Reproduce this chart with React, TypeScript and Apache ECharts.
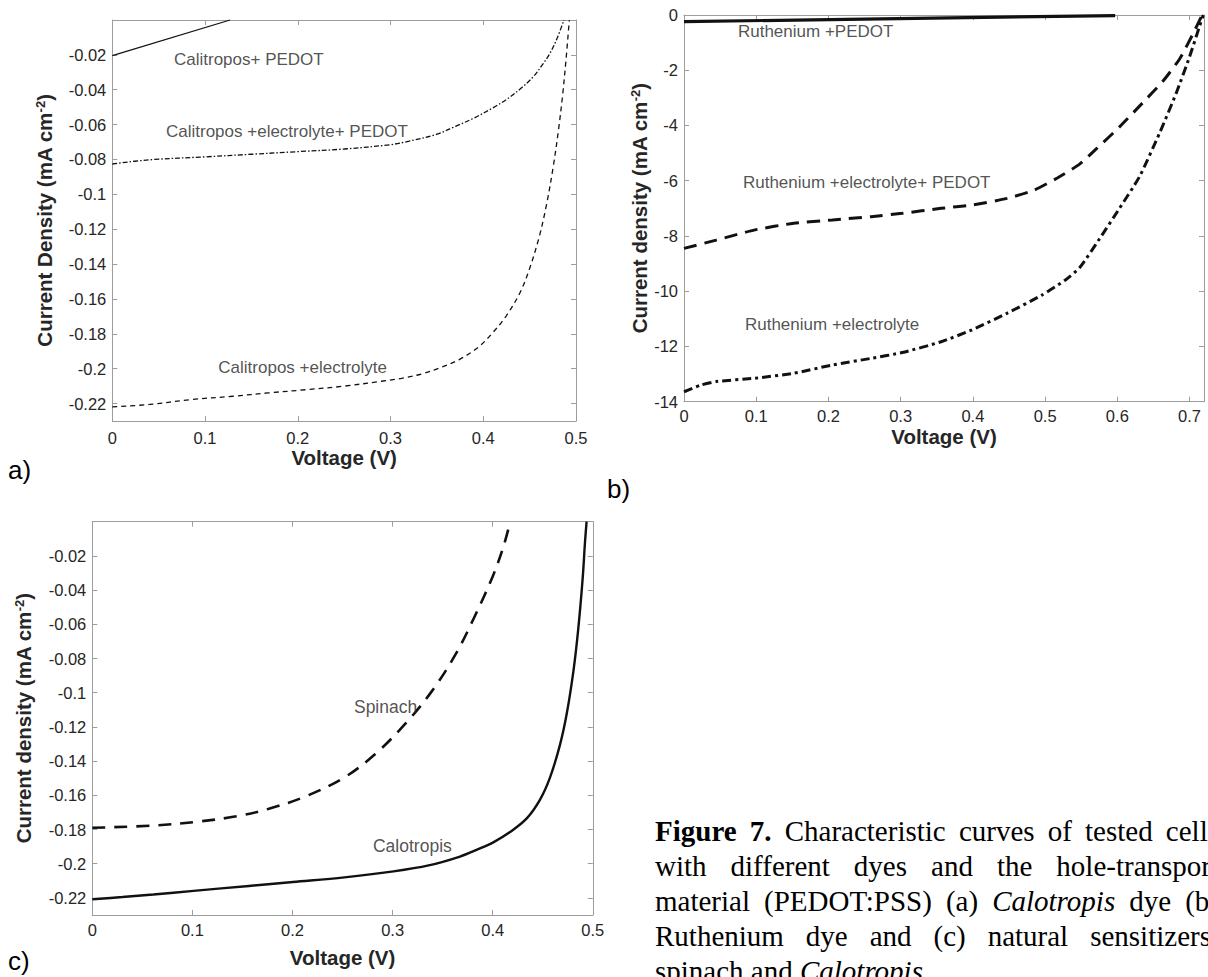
import React, { useEffect, useRef } from "react";
import * as echarts from "echarts";

// ---------------- data ----------------
// Panel a (Calotropis dye)
const aPedotV = [0, 0.127];
const aPedotJ = [-0.0205, 0];
const aElecPedotV = [0, 0.04, 0.1, 0.15, 0.2, 0.25, 0.3, 0.32, 0.35, 0.37, 0.389, 0.41, 0.4253, 0.44, 0.454, 0.464, 0.472, 0.48, 0.487];
const aElecPedotJ = [-0.0826, -0.0802, -0.0785, -0.077, -0.0755, -0.074, -0.0715, -0.0695, -0.0655, -0.061, -0.0565, -0.0505, -0.0455, -0.0395, -0.0325, -0.0255, -0.019, -0.01, 0];
const aElecV = [0, 0.04, 0.085, 0.13, 0.168, 0.21, 0.25, 0.29, 0.312, 0.335, 0.3534, 0.375, 0.395, 0.41, 0.425, 0.44, 0.45, 0.46, 0.468, 0.4755, 0.481, 0.4857, 0.4892, 0.4928];
const aElecJ = [-0.2219, -0.2205, -0.2177, -0.2158, -0.2139, -0.212, -0.21, -0.2072, -0.2055, -0.2028, -0.1995, -0.1945, -0.1875, -0.1795, -0.1695, -0.156, -0.1425, -0.125, -0.1065, -0.084, -0.0635, -0.0425, -0.023, 0];
const aLabels = ["Calitropos+ PEDOT", "Calitropos +electrolyte+ PEDOT", "Calitropos +electrolyte"];
const aLabelV = [0.0665, 0.0579, 0.1143];
const aLabelJ = [-0.0229, -0.0641, -0.1996];

// Panel b (Ruthenium dye)
const bPedotV = [0, 0.597];
const bPedotJ = [-0.24, -0.02];
const bElecPedotV = [0, 0.0446, 0.0982, 0.152, 0.2056, 0.2593, 0.3022, 0.3559, 0.3988, 0.4471, 0.4847, 0.5169, 0.5477, 0.5708, 0.603, 0.6307, 0.663, 0.686, 0.7044, 0.716];
const bElecPedotJ = [-8.45, -8.15, -7.78, -7.54, -7.42, -7.3, -7.18, -7.0, -6.88, -6.64, -6.34, -5.9, -5.4, -4.85, -4.05, -3.3, -2.4, -1.6, -0.7, -0.08];
const bElecV = [0, 0.023, 0.0446, 0.0982, 0.152, 0.2056, 0.2593, 0.3022, 0.3559, 0.3988, 0.4471, 0.4955, 0.5277, 0.5477, 0.5754, 0.603, 0.6307, 0.6584, 0.6815, 0.7, 0.7137, 0.719];
const bElecJ = [-13.64, -13.4, -13.27, -13.15, -12.97, -12.67, -12.43, -12.22, -11.83, -11.4, -10.8, -10.14, -9.6, -9.15, -8.1, -7.0, -5.85, -4.28, -2.83, -1.51, -0.42, 0];
const bLabels = ["Ruthenium +PEDOT", "Ruthenium +electrolyte+ PEDOT", "Ruthenium +electrolyte"];
const bLabelV = [0.0747, 0.0816, 0.0844];
const bLabelJ = [-0.615, -6.08, -11.22];

// Panel c (natural sensitizers)
const cSpinachV = [0, 0.061, 0.107, 0.145, 0.1756, 0.2137, 0.2519, 0.2824, 0.313, 0.34, 0.363, 0.3815, 0.4, 0.4105, 0.4175];
const cSpinachJ = [-0.179, -0.1777, -0.1753, -0.1722, -0.168, -0.1605, -0.1495, -0.136, -0.118, -0.0985, -0.0775, -0.056, -0.032, -0.015, 0];
const cCaloV = [0, 0.03, 0.061, 0.1011, 0.1565, 0.2004, 0.2519, 0.3008, 0.3359, 0.3673, 0.3855, 0.4006, 0.4173, 0.434, 0.4473, 0.4573, 0.4672, 0.4739, 0.4806, 0.4855, 0.4899, 0.4922, 0.4938];
const cCaloJ = [-0.2208, -0.2195, -0.218, -0.2159, -0.213, -0.2107, -0.208, -0.2045, -0.201, -0.1958, -0.1915, -0.1875, -0.1815, -0.1735, -0.1625, -0.1495, -0.1305, -0.1125, -0.0875, -0.0625, -0.033, -0.012, 0];
const cLabels = ["Spinach", "Calotropis"];
const cLabelV = [0.2614, 0.2804];
const cLabelJ = [-0.1083, -0.1899];

// tick values
const acTicksX = [0, 0.1, 0.2, 0.3, 0.4, 0.5];
const acTicksY = [-0.22, -0.2, -0.18, -0.16, -0.14, -0.12, -0.1, -0.08, -0.06, -0.04, -0.02];
const bTicksX = [0, 0.1, 0.2, 0.3, 0.4, 0.5, 0.6, 0.7];
const bTicksY = [-14, -12, -10, -8, -6, -4, -2, 0];

// caption tokens: each token is a list of [text, style]
const captionLines: [string, string][][][] = [
  [[["Figure", "b"]], [["7.", "b"]], [["Characteristic", "n"]], [["curves", "n"]], [["of", "n"]], [["tested", "n"]], [["cells", "n"]]],
  [[["with", "n"]], [["different", "n"]], [["dyes", "n"]], [["and", "n"]], [["the", "n"]], [["hole-transport", "n"]]],
  [[["material", "n"]], [["(PEDOT:PSS)", "n"]], [["(a)", "n"]], [["Calotropis", "i"]], [["dye", "n"]], [["(b)", "n"]]],
  [[["Ruthenium", "n"]], [["dye", "n"]], [["and", "n"]], [["(c)", "n"]], [["natural", "n"]], [["sensitizers:", "n"]]],
  [[["spinach", "n"]], [["and", "n"]], [["Calotropis", "i"], [".", "n"]]],
];

// ---------------- styling ----------------
const AXIS_GREY = "#9d9d9d";
const TEXT = "#262626";
const SANS = "'Liberation Sans', Arial, Helvetica, sans-serif";
const SERIF = "'Liberation Serif', 'Times New Roman', serif";

const fmt = (v: number) => String(parseFloat(Number(v).toFixed(2)));
const pairs = (x: number[], y: number[]) => x.map((v, i) => [v, y[i]]);

type PanelCfg = {
  grid: any;
  xMin: number; xMax: number; xTicks: number[];
  yMin: number; yMax: number; yTicks: number[];
  yName: string; yGap: number; xGap: number; xLabelMargin: number; tickFont: number;
};

const panels: PanelCfg[] = [
  { grid: { left: 112.3, top: 20, width: 463.7, height: 401 }, xMin: 0, xMax: 0.5, xTicks: acTicksX, yMin: -0.23, yMax: 0, yTicks: acTicksY, yName: "Current Density", yGap: 57, xGap: 23.5, xLabelMargin: 8, tickFont: 16.5 },
  { grid: { left: 684, top: 15, width: 520, height: 386.7 }, xMin: 0, xMax: 0.72, xTicks: bTicksX, yMin: -14, yMax: 0, yTicks: bTicksY, yName: "Current density", yGap: 34, xGap: 22.5, xLabelMargin: 6, tickFont: 16.5 },
  { grid: { left: 92.3, top: 521.7, width: 500.5, height: 393.3 }, xMin: 0, xMax: 0.5, xTicks: acTicksX, yMin: -0.23, yMax: 0, yTicks: acTicksY, yName: "Current density", yGap: 58, xGap: 32, xLabelMargin: 6, tickFont: 16.5 },
];

function buildAxes() {
  const xAxis: any[] = [];
  const yAxis: any[] = [];
  panels.forEach((p, gi) => {
    const lineStyle = { color: AXIS_GREY, width: 1 };
    const labelBase = { color: TEXT, fontSize: p.tickFont, fontFamily: SANS, formatter: fmt };
    xAxis.push({
      type: "value", gridIndex: gi, min: p.xMin, max: p.xMax, position: "bottom",
      axisLine: { show: true, onZero: false, lineStyle },
      axisTick: { show: true, inside: true, length: 5, customValues: p.xTicks, lineStyle },
      axisLabel: { ...labelBase, margin: p.xLabelMargin, customValues: p.xTicks },
      splitLine: { show: false },
      name: "Voltage (V)", nameLocation: "middle", nameGap: p.xGap,
      nameTextStyle: { fontWeight: "bold", fontSize: 20.5, color: TEXT, fontFamily: SANS },
    });
    xAxis.push({
      type: "value", gridIndex: gi, min: p.xMin, max: p.xMax, position: "top",
      axisLine: { show: true, onZero: false, lineStyle },
      axisTick: { show: true, inside: true, length: 5, customValues: p.xTicks, lineStyle },
      axisLabel: { show: false },
      splitLine: { show: false },
    });
    yAxis.push({
      type: "value", gridIndex: gi, min: p.yMin, max: p.yMax, position: "left",
      axisLine: { show: true, onZero: false, lineStyle },
      axisTick: { show: true, inside: true, length: 5, customValues: p.yTicks, lineStyle },
      axisLabel: { ...labelBase, margin: 6, customValues: p.yTicks },
      splitLine: { show: false },
      name: `{t|${p.yName} (mA cm}{s|-2}{t|)}`, nameLocation: "middle", nameGap: p.yGap, nameRotate: 90,
      nameTextStyle: {
        rich: {
          t: { fontWeight: "bold", fontSize: 20.5, color: TEXT, fontFamily: SANS },
          s: { fontWeight: "bold", fontSize: 13, color: TEXT, fontFamily: SANS, verticalAlign: "top" },
        },
      },
    });
    yAxis.push({
      type: "value", gridIndex: gi, min: p.yMin, max: p.yMax, position: "right",
      axisLine: { show: true, onZero: false, lineStyle },
      axisTick: { show: true, inside: true, length: 5, customValues: p.yTicks, lineStyle },
      axisLabel: { show: false },
      splitLine: { show: false },
    });
  });
  return { xAxis, yAxis };
}

function lineSeries(gi: number, name: string, x: number[], y: number[], width: number, type: any, smooth: number) {
  return {
    type: "line", name, xAxisIndex: gi * 2, yAxisIndex: gi * 2, data: pairs(x, y),
    showSymbol: false, symbol: "none", smooth, clip: true,
    lineStyle: { color: "#111111", width, type, cap: "butt" }, z: 3, silent: true,
  };
}

function labelSeries(gi: number, names: string[], x: number[], y: number[], size: number) {
  return {
    type: "scatter", xAxisIndex: gi * 2, yAxisIndex: gi * 2, symbolSize: 0, silent: true, z: 4,
    data: names.map((n, i) => ({ name: n, value: [x[i], y[i]] })),
    label: { show: true, formatter: "{b}", position: "right", distance: 0, color: TEXT, fontSize: size, fontFamily: SANS },
  };
}

function buildCaption(): any[] {
  const size = 29;
  const L = 655;
  const R = 1219;
  const y0 = 830.5;
  const step = 35;
  const canvas = document.createElement("canvas");
  const ctx = canvas.getContext("2d")!;
  const fontFor = (s: string) => `${s === "i" ? "italic " : ""}${s === "b" ? "bold " : ""}${size}px 'Liberation Serif'`;
  const measure = (t: string, s: string) => { ctx.font = fontFor(s); return ctx.measureText(t).width; };
  const spaceW = measure(" ", "n");
  const els: any[] = [];
  captionLines.forEach((line, li) => {
    const widths = line.map((tok) => tok.reduce((acc, [t, s]) => acc + measure(t, s), 0));
    const total = widths.reduce((a, b) => a + b, 0);
    const last = li === captionLines.length - 1;
    const gap = last ? spaceW : (R - L - total) / (line.length - 1);
    let x = L;
    line.forEach((tok, ti) => {
      let px = x;
      tok.forEach(([t, s]) => {
        els.push({
          type: "text", x: px, y: y0 + li * step, silent: true,
          style: {
            text: t, fill: "#000000", fontSize: size, fontFamily: SERIF,
            fontWeight: s === "b" ? "bold" : "normal", fontStyle: s === "i" ? "italic" : "normal",
            align: "left", verticalAlign: "middle",
          },
        });
        px += measure(t, s);
      });
      x += widths[ti] + gap;
    });
  });
  return els;
}

export default function App() {
  const ref = useRef<HTMLDivElement>(null);
  useEffect(() => {
    document.body.style.margin = "0";
    const chart = echarts.init(ref.current!, undefined, { renderer: "svg" });
    const { xAxis, yAxis } = buildAxes();
    const letterStyle = { fill: "#000000", fontSize: 26, fontFamily: SANS, align: "left", verticalAlign: "middle" };
    const option: any = {
      animation: false,
      backgroundColor: "#ffffff",
      grid: panels.map((p) => ({ ...p.grid, containLabel: false, outerBoundsMode: "none" })),
      xAxis,
      yAxis,
      series: [
        lineSeries(0, "Calitropos+ PEDOT", aPedotV, aPedotJ, 1.3, "solid", 0),
        lineSeries(0, "Calitropos +electrolyte+ PEDOT", aElecPedotV, aElecPedotJ, 1.3, [5, 2, 1.5, 2], 0.35),
        lineSeries(0, "Calitropos +electrolyte", aElecV, aElecJ, 1.3, [5, 4], 0.35),
        labelSeries(0, aLabels, aLabelV, aLabelJ, 17),
        lineSeries(1, "Ruthenium +PEDOT", bPedotV, bPedotJ, 3.2, "solid", 0),
        lineSeries(1, "Ruthenium +electrolyte+ PEDOT", bElecPedotV, bElecPedotJ, 3, [13, 8], 0.2),
        lineSeries(1, "Ruthenium +electrolyte", bElecV, bElecJ, 3, [9, 4, 3, 4], 0.2),
        labelSeries(1, bLabels, bLabelV, bLabelJ, 17),
        lineSeries(2, "Spinach", cSpinachV, cSpinachJ, 2.6, [13, 9], 0.35),
        lineSeries(2, "Calotropis", cCaloV, cCaloJ, 2.4, "solid", 0.35),
        labelSeries(2, cLabels, cLabelV, cLabelJ, 17.5),
      ],
      graphic: [
        { type: "text", x: 8, y: 470, silent: true, style: { ...letterStyle, text: "a)" } },
        { type: "text", x: 607, y: 489, silent: true, style: { ...letterStyle, text: "b)" } },
        { type: "text", x: 8, y: 961, silent: true, style: { ...letterStyle, text: "c)" } },
        ...buildCaption(),
      ],
    };
    chart.setOption(option);
    return () => chart.dispose();
  }, []);
  return <div ref={ref} style={{ position: "absolute", left: 0, top: 0, width: 1208, height: 977 }} />;
}
